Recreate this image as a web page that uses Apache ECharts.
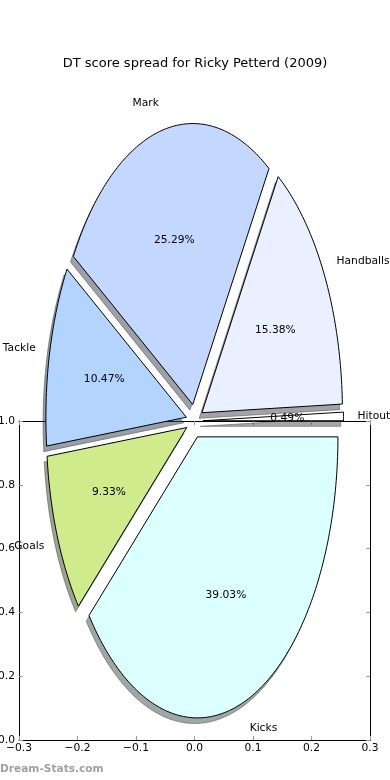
<!DOCTYPE html>
<html>
<head>
<meta charset="utf-8">
<script src="https://cdn.jsdelivr.net/npm/echarts@6/dist/echarts.min.js"></script>
<style>
  html, body { margin: 0; padding: 0; background: #fff; }
  #chart { width: 390px; height: 780px; }
</style>
</head>
<body>
<div id="chart"></div>
<script>
// ---- data ----
const categories = ['Hitout', 'Handballs', 'Mark', 'Tackle', 'Goals', 'Kicks'];
const shares = [0.49, 15.38, 25.29, 10.47, 9.33, 39.03];
const xTickValues = [-0.3, -0.2, -0.1, 0.0, 0.1, 0.2, 0.3];
const yTickValues = [0.0, 0.2, 0.4, 0.6, 0.8, 1.0];
const titleText = 'DT score spread for Ricky Petterd (2009)';

// ---- style / layout ----
const sliceColors = ['#ffffff', '#eaf0ff', '#c4d8ff', '#b3d4ff', '#cfeb8c', '#dcffff'];
const FONT = 'DejaVu Sans';
const EXPLODE = 0.06, LABEL_DIST = 1.1, PCT_DIST = 0.6, SHADOW_DX = -0.02, SHADOW_DY = -0.02;
const PIE_CX = 194.6, PIE_CY = 421, PIE_RX = 140.5, PIE_RY = 281, W = 390, H = 780;

const total = shares.reduce((a, b) => a + b, 0);
const cum = [];
shares.reduce((acc, v, i) => { cum[i] = acc; return acc + v; }, 0);

function geom(i) {
  const t1 = 2 * Math.PI * cum[i] / total;
  const t2 = 2 * Math.PI * (cum[i] + shares[i]) / total;
  const tm = (t1 + t2) / 2;
  const ex = EXPLODE * Math.cos(tm), ey = EXPLODE * Math.sin(tm);
  return { t1, t2, tm, ex, ey };
}
function wedgePoints(api, i, dx, dy) {
  const g = geom(i);
  const pts = [api.coord([g.ex + dx, g.ey + dy])];
  const n = Math.max(4, Math.ceil((g.t2 - g.t1) / (Math.PI / 180)));
  for (let k = 0; k <= n; k++) {
    const t = g.t1 + (g.t2 - g.t1) * k / n;
    pts.push(api.coord([g.ex + dx + Math.cos(t), g.ey + dy + Math.sin(t)]));
  }
  return pts;
}
function shadowColor(hex) {
  const r = parseInt(hex.slice(1, 3), 16), g = parseInt(hex.slice(3, 5), 16), b = parseInt(hex.slice(5, 7), 16);
  return 'rgba(' + Math.round(r * 0.3) + ',' + Math.round(g * 0.3) + ',' + Math.round(b * 0.3) + ',0.5)';
}

const pieData = categories.map((c, i) => [i, shares[i]]);
const fmt = v => (v < 0 ? '\u2212' : '') + Math.abs(v).toFixed(1);

const chart = echarts.init(document.getElementById('chart'), null, { renderer: 'canvas' });
chart.setOption({
  animation: false,
  backgroundColor: '#ffffff',
  title: {
    text: titleText, left: 'center', top: 52,
    textStyle: { fontFamily: FONT, fontSize: 13, fontWeight: 'normal', color: '#000' }
  },
  graphic: [{
    type: 'text', left: 0, top: 764,
    style: { text: 'Dream-Stats.com', fill: '#a0a0a0', font: 'bold 10.6px ' + FONT }
  }],
  grid: [
    { left: 19, right: 20, top: 421, bottom: 40, containLabel: false, outerBoundsMode: 'none' },
    { left: 0, top: 0, width: W, height: H, containLabel: false, outerBoundsMode: 'none' }
  ],
  xAxis: [
    { gridIndex: 0, type: 'value', position: 'bottom', min: xTickValues[0], max: xTickValues[xTickValues.length - 1], interval: 0.1,
      axisLine: { onZero: false, lineStyle: { color: '#000', width: 1 } },
      axisTick: { inside: true, length: 4, lineStyle: { color: '#999' } },
      axisLabel: { formatter: fmt, color: '#000', fontFamily: FONT, fontSize: 10.7, margin: 3 },
      splitLine: { show: false } },
    { gridIndex: 0, type: 'value', position: 'top', min: xTickValues[0], max: xTickValues[xTickValues.length - 1], interval: 0.1,
      axisLine: { onZero: false, lineStyle: { color: '#000', width: 1 } },
      axisTick: { inside: true, length: 4, lineStyle: { color: '#999' } },
      axisLabel: { show: false }, splitLine: { show: false } },
    { gridIndex: 1, type: 'value', min: -PIE_CX / PIE_RX, max: (W - PIE_CX) / PIE_RX, show: false }
  ],
  yAxis: [
    { gridIndex: 0, type: 'value', position: 'left', min: yTickValues[0], max: yTickValues[yTickValues.length - 1], interval: 0.2,
      axisLine: { onZero: false, lineStyle: { color: '#000', width: 1 } },
      axisTick: { inside: true, length: 4, lineStyle: { color: '#999' } },
      axisLabel: { formatter: fmt, color: '#000', fontFamily: FONT, fontSize: 10.7, margin: 4 },
      splitLine: { show: false } },
    { gridIndex: 0, type: 'value', position: 'right', min: yTickValues[0], max: yTickValues[yTickValues.length - 1], interval: 0.2,
      axisLine: { onZero: false, lineStyle: { color: '#000', width: 1 } },
      axisTick: { inside: true, length: 4, lineStyle: { color: '#999' } },
      axisLabel: { show: false }, splitLine: { show: false } },
    { gridIndex: 1, type: 'value', min: -(H - PIE_CY) / PIE_RY, max: PIE_CY / PIE_RY, show: false }
  ],
  series: [
    { type: 'custom', name: 'shadow', xAxisIndex: 2, yAxisIndex: 2, z: 3, data: pieData, silent: true,
      renderItem: (params, api) => {
        const i = api.value(0);
        return { type: 'polygon', shape: { points: wedgePoints(api, i, SHADOW_DX, SHADOW_DY) },
          style: { fill: shadowColor(sliceColors[i]), stroke: shadowColor(sliceColors[i]), lineWidth: 1 } };
      } },
    { type: 'custom', name: 'wedges', xAxisIndex: 2, yAxisIndex: 2, z: 4, data: pieData, silent: true,
      renderItem: (params, api) => {
        const i = api.value(0);
        return { type: 'polygon', shape: { points: wedgePoints(api, i, 0, 0) },
          style: { fill: sliceColors[i], stroke: '#000', lineWidth: 1, lineJoin: 'miter' } };
      } },
    { type: 'custom', name: 'labels', xAxisIndex: 2, yAxisIndex: 2, z: 5, data: pieData, silent: true,
      renderItem: (params, api) => {
        const i = api.value(0);
        const g = geom(i);
        const lp = api.coord([g.ex + LABEL_DIST * Math.cos(g.tm), g.ey + LABEL_DIST * Math.sin(g.tm)]);
        const pp = api.coord([g.ex + PCT_DIST * Math.cos(g.tm), g.ey + PCT_DIST * Math.sin(g.tm)]);
        const xt = LABEL_DIST * Math.cos(g.tm) + g.ex;
        return { type: 'group', children: [
          { type: 'text', style: { x: lp[0], y: lp[1], text: categories[i], fill: '#000',
              font: '10.7px ' + FONT, align: xt > 0 ? 'left' : 'right', verticalAlign: 'middle' } },
          { type: 'text', style: { x: pp[0], y: pp[1], text: api.value(1).toFixed(2) + '%', fill: '#000',
              font: '10.7px ' + FONT, align: 'center', verticalAlign: 'middle' } }
        ] };
      } }
  ]
});
</script>
</body>
</html>
